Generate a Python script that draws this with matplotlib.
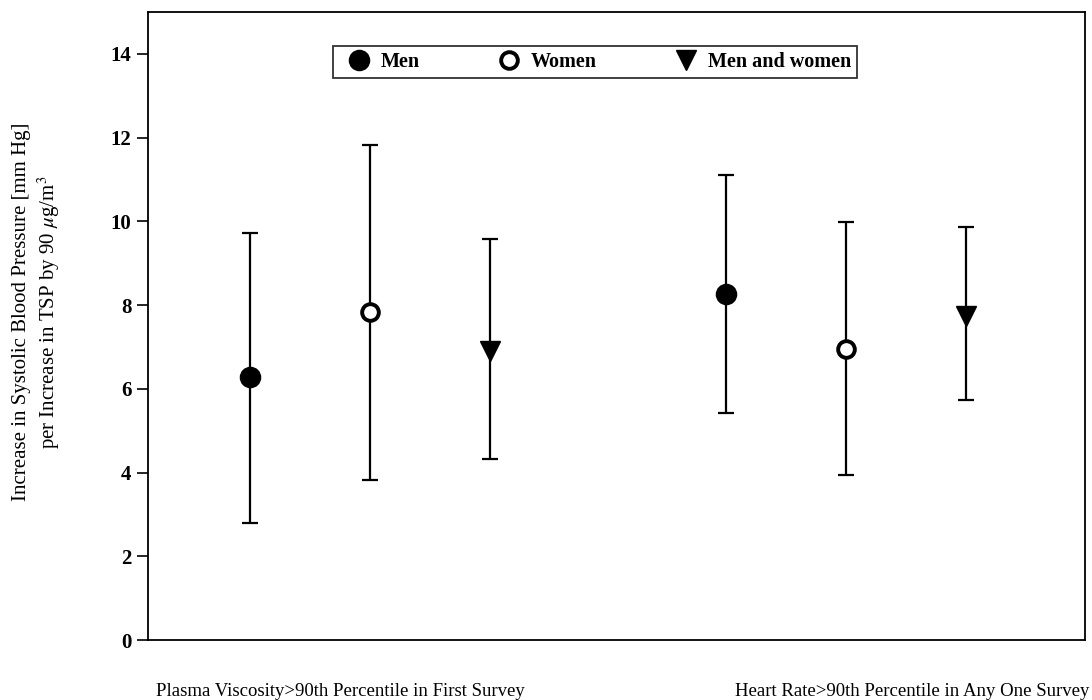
import matplotlib
matplotlib.use("Agg")
import matplotlib.pyplot as plt
from matplotlib.lines import Line2D

plt.rcParams['font.family'] = ['Liberation Serif', 'DejaVu Serif']
plt.rcParams['mathtext.fontset'] = 'stix'

groups = ["Plasma Viscosity>90th Percentile in First Survey",
          "Heart Rate>90th Percentile in Any One Survey"]
series = ["Men", "Women", "Men and women"]

# estimate and 95% CI per group (order: Plasma viscosity, Heart rate)
est = {"Men": [6.27, 8.26], "Women": [7.83, 6.94], "Men and women": [6.9, 7.73]}
lower = {"Men": [2.8, 5.41], "Women": [3.83, 3.95], "Men and women": [4.33, 5.74]}
upper = {"Men": [9.72, 11.1], "Women": [11.82, 9.98], "Men and women": [9.57, 9.86]}

centers = [1.85, 5.82]
offsets = {"Men": -1.0, "Women": 0.0, "Men and women": 1.0}
style = {
    "Men": dict(marker="o", mfc="black", mec="black", ms=14, mew=1.5),
    "Women": dict(marker="o", mfc="white", mec="black", ms=12, mew=2.8),
    "Men and women": dict(marker="v", mfc="black", mec="black", ms=15, mew=1.0),
}

fig = plt.figure(figsize=(10.92, 7.0), dpi=100)
ax = fig.add_axes([0.1355, 0.0857, 0.858, 0.8973])

for s in series:
    xs = [c + offsets[s] for c in centers]
    ys = est[s]
    yerr = [[y - lo for y, lo in zip(ys, lower[s])],
            [hi - y for y, hi in zip(ys, upper[s])]]
    ax.errorbar(xs, ys, yerr=yerr, fmt="none", ecolor="black", elinewidth=1.6,
                capsize=6, capthick=1.6, zorder=2)
    ax.plot(xs, ys, linestyle="none", zorder=3, **style[s])

ax.set_xlim(0, 7.81)
ax.set_ylim(0, 15)
ax.set_yticks(range(0, 15, 2))
for lab in ax.get_yticklabels():
    lab.set_fontweight("bold")
    lab.set_fontsize(15)
ax.tick_params(axis="y", direction="out", length=8, width=1.2, pad=4)
ax.set_xticks([1.6, 6.37])
ax.set_xticklabels(groups, fontsize=13.5)
ax.tick_params(axis="x", length=0, pad=31)
for sp in ax.spines.values():
    sp.set_linewidth(1.3)

ax.set_ylabel("Increase in Systolic Blood Pressure [mm Hg]\n"
              "per Increase in TSP by 90 $\\mu$g/m$^3$",
              fontsize=15, linespacing=1.25)
ax.yaxis.set_label_coords(-0.092, 0.522)

handles = [Line2D([], [], linestyle="none", **style[s]) for s in series]
leg = ax.legend(handles, series, ncol=3, loc="upper center",
                bbox_to_anchor=(0.477, 0.962), frameon=True, fancybox=False,
                edgecolor="black", columnspacing=3.4, handletextpad=0.1,
                borderpad=0.3, prop={"size": 14.5, "weight": "bold"})
leg.get_frame().set_linewidth(1.3)

fig.savefig("out.png", dpi=100)
